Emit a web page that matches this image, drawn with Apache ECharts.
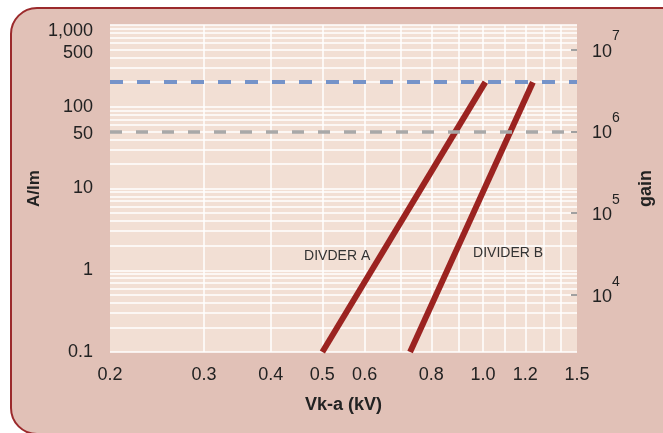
<!DOCTYPE html>
<html>
<head>
<meta charset="utf-8">
<script src="https://cdn.jsdelivr.net/npm/echarts@6/dist/echarts.min.js"></script>
<style>
  html, body { margin: 0; padding: 0; background: #fff; }
  #chart { width: 663px; height: 433px; }
</style>
</head>
<body>
<div id="chart"></div>
<script>
// tick labels
var xLabels = [0.2, 0.3, 0.4, 0.5, 0.6, 0.8, 1.0, 1.2, 1.5];
var xGridLines = [0.3, 0.4, 0.5, 0.6, 0.7, 0.8, 0.9, 1.0, 1.1, 1.2, 1.3, 1.4];
var yLabels = [0.1, 1, 10, 50, 100, 500, 1000];
var gainLabels = [1e4, 1e5, 1e6, 1e7];

// series (Vk-a in kV, A/lm)
var dividerA = [[0.5, 0.1], [1.01, 200]];
var dividerB = [[0.73, 0.1], [1.24, 200]];
var levelBlue = 200;
var levelGray = 50;

// minor grid 1..9 per decade
var yGridLines = [];
[0.1, 1, 10, 100].forEach(function (d) {
    for (var k = 1; k < 10; k++) yGridLines.push(+(d * k).toPrecision(3));
});
yGridLines.push(1000);

var myChart = echarts.init(document.getElementById('chart'));

var font = 'Liberation Sans, Arial, sans-serif';

var option = {
    animation: false,
    textStyle: { fontFamily: font },
    graphic: [{
        type: 'rect',
        z: -10,
        shape: { x: 11, y: 8, width: 680, height: 426, r: 26 },
        style: { fill: '#e1c1b7', stroke: '#9b2a2c', lineWidth: 2 }
    }],
    grid: {
        left: 110, right: 84, top: 25, bottom: 81,
        show: true, backgroundColor: '#f2dfd4', borderWidth: 0
    },
    xAxis: {
        type: 'log', min: 0.2, max: 1.5,
        name: 'Vk-a (kV)', nameLocation: 'middle', nameGap: 44,
        nameTextStyle: { fontSize: 18, fontWeight: 'bold', color: '#222' },
        axisLine: { show: false },
        axisTick: { show: false, customValues: xGridLines },
        splitLine: { show: true, lineStyle: { color: '#fff', width: 1.5 } },
        axisLabel: {
            customValues: xLabels, margin: 14, fontSize: 18, color: '#222',
            formatter: function (v) { return v.toFixed(1); }
        }
    },
    yAxis: [{
        type: 'log', min: 0.1, max: 1000,
        name: 'A/lm', nameLocation: 'middle', nameGap: 67, nameMoveOverlap: false,
        nameTextStyle: { fontSize: 17, fontWeight: 'bold', color: '#222' },
        axisLine: { show: false },
        axisTick: { show: false, customValues: yGridLines },
        splitLine: { show: true, lineStyle: { color: '#fff', width: 1.5 } },
        axisLabel: {
            customValues: yLabels, margin: 17, fontSize: 18, color: '#222',
            formatter: function (v) {
                if (v >= 1000) return '{d6|1,000}';
                if (v === 500 || v === 50) return '{d3|' + v + '}';
                return String(v);
            },
            rich: {
                d6: { fontSize: 18, color: '#222', padding: [12, 0, 0, 0] },
                d3: { fontSize: 18, color: '#222', padding: [6, 0, 0, 0] }
            }
        }
    }, {
        type: 'log', min: 2000, max: 2e7, position: 'right',
        name: 'gain', nameLocation: 'middle', nameGap: 60,
        nameTextStyle: { fontSize: 18, fontWeight: 'bold', color: '#222' },
        axisLine: { show: false },
        splitLine: { show: false },
        axisTick: {
            show: true, inside: true, length: 6, customValues: gainLabels,
            lineStyle: { color: '#a0a0a0', width: 2 }
        },
        axisLabel: {
            customValues: gainLabels, margin: 15, color: '#222',
            formatter: function (v) {
                return '{b|10}{s|' + Math.round(Math.log10(v)) + '}';
            },
            rich: {
                b: { fontSize: 18, color: '#222', padding: [4, 0, 0, 0] },
                s: { fontSize: 14, color: '#222', padding: [0, 0, 26, 0] }
            }
        }
    }],
    series: [{
        name: 'DIVDER A',
        type: 'line',
        data: dividerA,
        symbol: 'none',
        lineStyle: { color: '#9b2320', width: 6 },
        z: 3,
        markLine: {
            silent: true, symbol: 'none', label: { show: false },
            data: [
                { yAxis: levelBlue, lineStyle: { color: '#7593c9', width: 4, type: [13, 14] } },
                { yAxis: levelGray, lineStyle: { color: '#a8a8a8', width: 3.5, type: [12, 14] } }
            ]
        },
        markPoint: {
            silent: true, symbol: 'rect', symbolSize: 1,
            itemStyle: { color: 'transparent' },
            label: { show: true, position: 'inside', formatter: 'DIVDER A', fontSize: 14, color: '#333' },
            data: [{ coord: [0.533, 1.49] }]
        }
    }, {
        name: 'DIVIDER B',
        type: 'line',
        data: dividerB,
        symbol: 'none',
        lineStyle: { color: '#9b2320', width: 6 },
        z: 3,
        markPoint: {
            silent: true, symbol: 'rect', symbolSize: 1,
            itemStyle: { color: 'transparent' },
            label: { show: true, position: 'inside', formatter: 'DIVIDER B', fontSize: 14, color: '#333' },
            data: [{ coord: [1.114, 1.63] }]
        }
    }]
};

myChart.setOption(option);
</script>
</body>
</html>
